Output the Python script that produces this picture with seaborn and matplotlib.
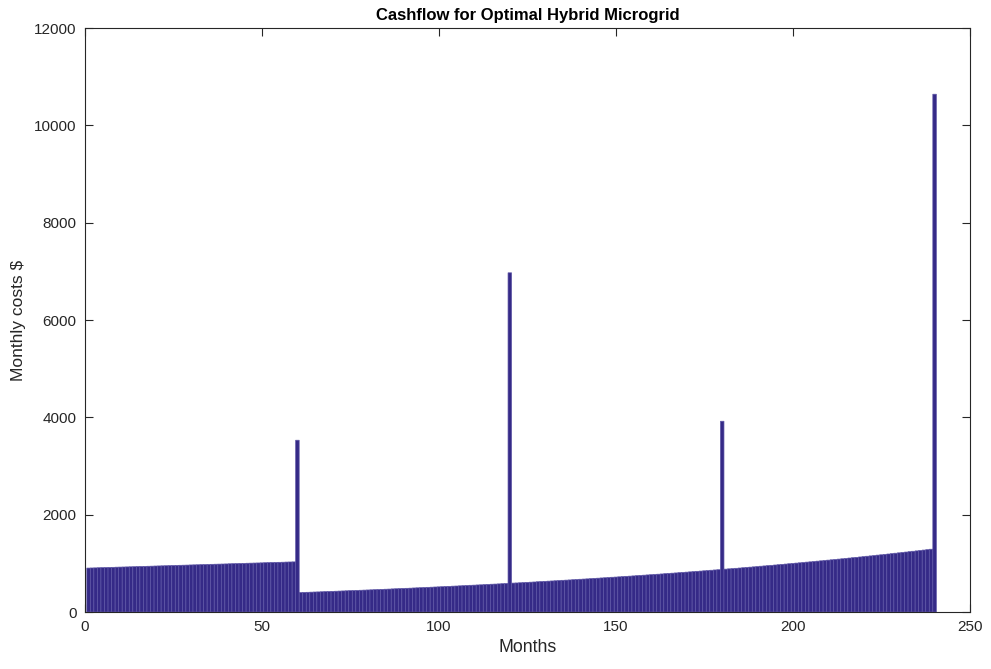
import numpy as np
import pandas as pd
import matplotlib
matplotlib.use("Agg")
import matplotlib.pyplot as plt
import seaborn as sns

# Months 1..59 (first period)
costs_period1 = [903, 905, 907, 910, 912, 914, 916, 918, 921, 923,
                 925, 927, 929, 931, 934, 936, 938, 940, 942, 945,
                 947, 949, 951, 953, 956, 958, 960, 962, 964, 967,
                 969, 971, 973, 975, 977, 980, 982, 984, 986, 988,
                 991, 993, 995, 997, 999, 1002, 1004, 1006, 1008, 1010,
                 1013, 1015, 1017, 1019, 1021, 1023, 1026, 1028, 1030]
# Month 60 replacement spike
spike_60 = [3530]
# Months 61..119
costs_period2 = [400, 403, 405, 408, 411, 413, 416, 419, 422, 424,
                 427, 430, 433, 436, 439, 441, 444, 447, 450, 453,
                 456, 459, 462, 465, 468, 471, 475, 478, 481, 484,
                 487, 490, 494, 497, 500, 503, 507, 510, 514, 517,
                 520, 524, 527, 531, 534, 538, 541, 545, 549, 552,
                 556, 559, 563, 567, 571, 574, 578, 582, 586]
spike_120 = [6970]
# Months 121..179
costs_period3 = [594, 597, 601, 605, 609, 613, 617, 622, 626, 630,
                 634, 638, 642, 647, 651, 655, 659, 664, 668, 673,
                 677, 681, 686, 691, 695, 700, 704, 709, 714, 718,
                 723, 728, 733, 737, 742, 747, 752, 757, 762, 767,
                 772, 777, 782, 788, 793, 798, 803, 809, 814, 819,
                 825, 830, 836, 841, 847, 852, 858, 864, 869]
spike_180 = [3920]
# Months 181..239
costs_period4 = [881, 887, 892, 898, 904, 910, 916, 922, 928, 934,
                 941, 947, 953, 959, 966, 972, 979, 985, 992, 998,
                 1005, 1011, 1018, 1025, 1031, 1038, 1045, 1052, 1059, 1066,
                 1073, 1080, 1087, 1094, 1101, 1109, 1116, 1123, 1131, 1138,
                 1146, 1153, 1161, 1169, 1176, 1184, 1192, 1200, 1208, 1216,
                 1224, 1232, 1240, 1248, 1256, 1265, 1273, 1281, 1290]
spike_240 = [10640]

costs = (costs_period1 + spike_60 + costs_period2 + spike_120 +
         costs_period3 + spike_180 + costs_period4 + spike_240)
months = list(range(1, len(costs) + 1))

x_ticks = [0, 50, 100, 150, 200, 250]
y_ticks = [0, 2000, 4000, 6000, 8000, 10000, 12000]

df = pd.DataFrame({"Months": months, "Cost": costs})

sns.set_style("white")
plt.rcParams["font.family"] = ["Liberation Sans", "DejaVu Sans"]

fig = plt.figure(figsize=(9.91, 6.69), dpi=100)
ax = fig.add_axes([0.0858, 0.0852, 0.8930, 0.8729])

sns.barplot(data=df, x="Months", y="Cost", native_scale=True, width=1.0,
            color="#352A87", saturation=1, edgecolor="#5E56A6",
            linewidth=0.5, ax=ax)
for p in ax.patches:
    p.set_snap(False)

ax.set_xlim(0, 250)
ax.set_ylim(0, 12000)
ax.set_xticks(x_ticks)
ax.set_yticks(y_ticks)
ax.set_xticklabels([str(t) for t in x_ticks])
ax.set_yticklabels([str(t) for t in y_ticks])

text_col = "#262626"
for s in ax.spines.values():
    s.set_visible(True)
    s.set_color(text_col)
    s.set_linewidth(0.8)
ax.tick_params(direction="in", length=6, width=0.8, colors=text_col,
               labelsize=11, top=True, right=True, bottom=True, left=True,
               labeltop=False, labelright=False, pad=6)

ax.set_xlabel("Months", fontsize=12.8, color=text_col, labelpad=3)
ax.set_ylabel(r"Monthly costs \$", fontsize=12.5, color=text_col, labelpad=6)
ax.set_title("Cashflow for Optimal Hybrid Microgrid", fontsize=12,
             fontweight="bold", color="black", pad=6)

fig.savefig("out.png", dpi=100)
